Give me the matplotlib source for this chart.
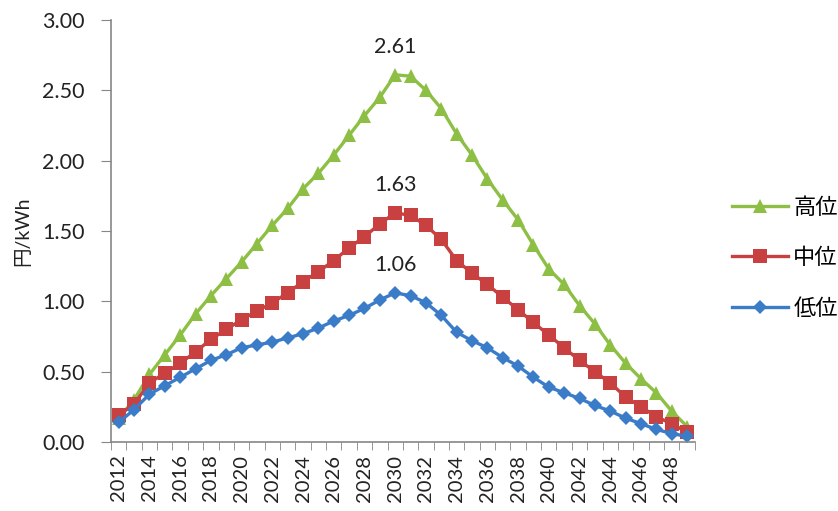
import numpy as np
import matplotlib
matplotlib.use("Agg")
import matplotlib.pyplot as plt
from matplotlib.ticker import FixedLocator, FormatStrFormatter

plt.rcParams['font.family'] = ['Lato', 'Noto Sans CJK JP', 'DejaVu Sans']

years = list(range(2012, 2050))

high = [0.17, 0.30, 0.48, 0.62, 0.76, 0.91, 1.04, 1.16, 1.28, 1.41, 1.54, 1.66,
        1.80, 1.91, 2.04, 2.18, 2.32, 2.45, 2.61, 2.60, 2.50, 2.37, 2.19, 2.04,
        1.87, 1.72, 1.58, 1.40, 1.23, 1.12, 0.97, 0.84, 0.69, 0.56, 0.45, 0.35,
        0.22, 0.11]
mid = [0.19, 0.27, 0.42, 0.49, 0.56, 0.64, 0.73, 0.80, 0.87, 0.93, 0.99, 1.06,
       1.14, 1.21, 1.29, 1.38, 1.46, 1.55, 1.63, 1.61, 1.54, 1.44, 1.29, 1.20,
       1.12, 1.03, 0.94, 0.85, 0.76, 0.67, 0.58, 0.50, 0.42, 0.32, 0.25, 0.18,
       0.13, 0.07]
low = [0.14, 0.23, 0.34, 0.40, 0.46, 0.52, 0.58, 0.62, 0.67, 0.69, 0.71, 0.74,
       0.77, 0.81, 0.86, 0.90, 0.95, 1.01, 1.06, 1.04, 0.99, 0.90, 0.78, 0.72,
       0.67, 0.60, 0.54, 0.46, 0.39, 0.35, 0.31, 0.26, 0.22, 0.17, 0.13, 0.09,
       0.06, 0.04]

series = [
    ('高位', high, '#8DBF45', '^', 9.5),
    ('中位', mid, '#C8403F', 's', 9.5),
    ('低位', low, '#3A7CC8', 'D', 7.5),
]
peak_year = 2030

fig = plt.figure(figsize=(8.38, 5.11), dpi=100)
ax = fig.add_axes([0.1325, 0.135, 0.6965, 0.826])

x = np.arange(len(years))
for name, vals, col, mk, ms in series:
    ax.plot(x, vals, color=col, lw=2.4, marker=mk, markersize=ms,
            markeredgewidth=0, label=name)
    i = years.index(peak_year)
    ax.annotate('%.2f' % vals[i], (x[i], vals[i]), xytext=(0, 13),
                textcoords='offset points', ha='center', va='bottom',
                fontsize=15.5, color='#222222')

ax.set_xlim(-0.5, len(years) - 0.5)
ax.set_ylim(0, 3.0)
ax.set_yticks(np.arange(0, 3.01, 0.5))
ax.yaxis.set_major_formatter(FormatStrFormatter('%.2f'))

# category axis: labels on every other year, ticks on category edges
ax.set_xticks(x[::2])
ax.set_xticklabels([str(y) for y in years[::2]], rotation=90)
ax.xaxis.set_minor_locator(FixedLocator(np.arange(-0.5, len(years), 1.0)))
ax.tick_params(axis='x', which='major', length=0, pad=9, labelsize=14.5,
               labelcolor='#222222')
ax.tick_params(axis='x', which='minor', length=6, color='#868686', direction='out')
ax.tick_params(axis='y', length=7, color='#868686', labelsize=15.5, pad=12,
               labelcolor='#222222')

for s in ['top', 'right']:
    ax.spines[s].set_visible(False)
for s in ['left', 'bottom']:
    ax.spines[s].set_color('#868686')
    ax.spines[s].set_linewidth(1.2)

ax.set_ylabel('円/kWh', fontsize=14, labelpad=8, color='#222222')

ax.legend(loc='center left', bbox_to_anchor=(1.03, 0.436), frameon=False,
          fontsize=16, handlelength=2.5, labelspacing=1.35, handletextpad=0.25)

fig.savefig('out.png', dpi=100)
